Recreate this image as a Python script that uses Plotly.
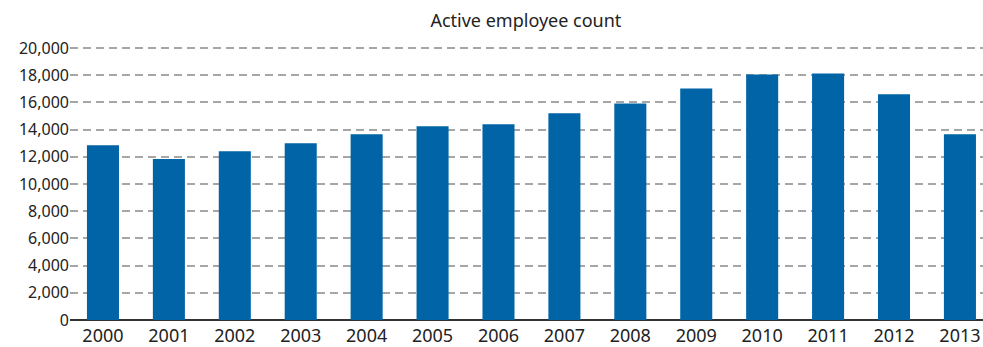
import plotly.graph_objects as go

years = ["2000", "2001", "2002", "2003", "2004", "2005", "2006",
         "2007", "2008", "2009", "2010", "2011", "2012", "2013"]
employees = [12860, 11850, 12420, 13000, 13660, 14250, 14400,
             15200, 15930, 17030, 18060, 18130, 16600, 13660]
y_ticks = list(range(0, 20001, 2000))

fig = go.Figure(go.Bar(x=years, y=employees, marker_color="#0064A6",
                       marker_line_width=0))

fig.update_layout(
    width=983, height=347,
    margin=dict(l=70, r=0, t=47, b=27, autoexpand=False),
    paper_bgcolor="white", plot_bgcolor="white",
    bargap=0.514,
    showlegend=False,
    font=dict(family="Noto Sans, Liberation Sans, sans-serif", color="#222"),
    title=dict(text="Active employee count", x=0.535, xanchor="center",
               y=0.94, yanchor="middle", font=dict(size=18, color="#222")),
)
fig.update_xaxes(type="category", range=[-0.5, 13.35], showgrid=False,
                 ticks="", tickfont=dict(size=18, color="#222"),
                 ticklabelstandoff=3, showline=False, automargin=False)
fig.update_yaxes(range=[0, 20080], tickvals=y_ticks, tickformat=",d",
                 showgrid=True, gridcolor="#a6a6a6", gridwidth=1.5,
                 griddash="8px,5px",
                 zeroline=True, zerolinecolor="#333", zerolinewidth=2,
                 ticks="", tickfont=dict(size=16, color="#222"),
                 showline=False, automargin=False)

fig.write_html("out.html")
